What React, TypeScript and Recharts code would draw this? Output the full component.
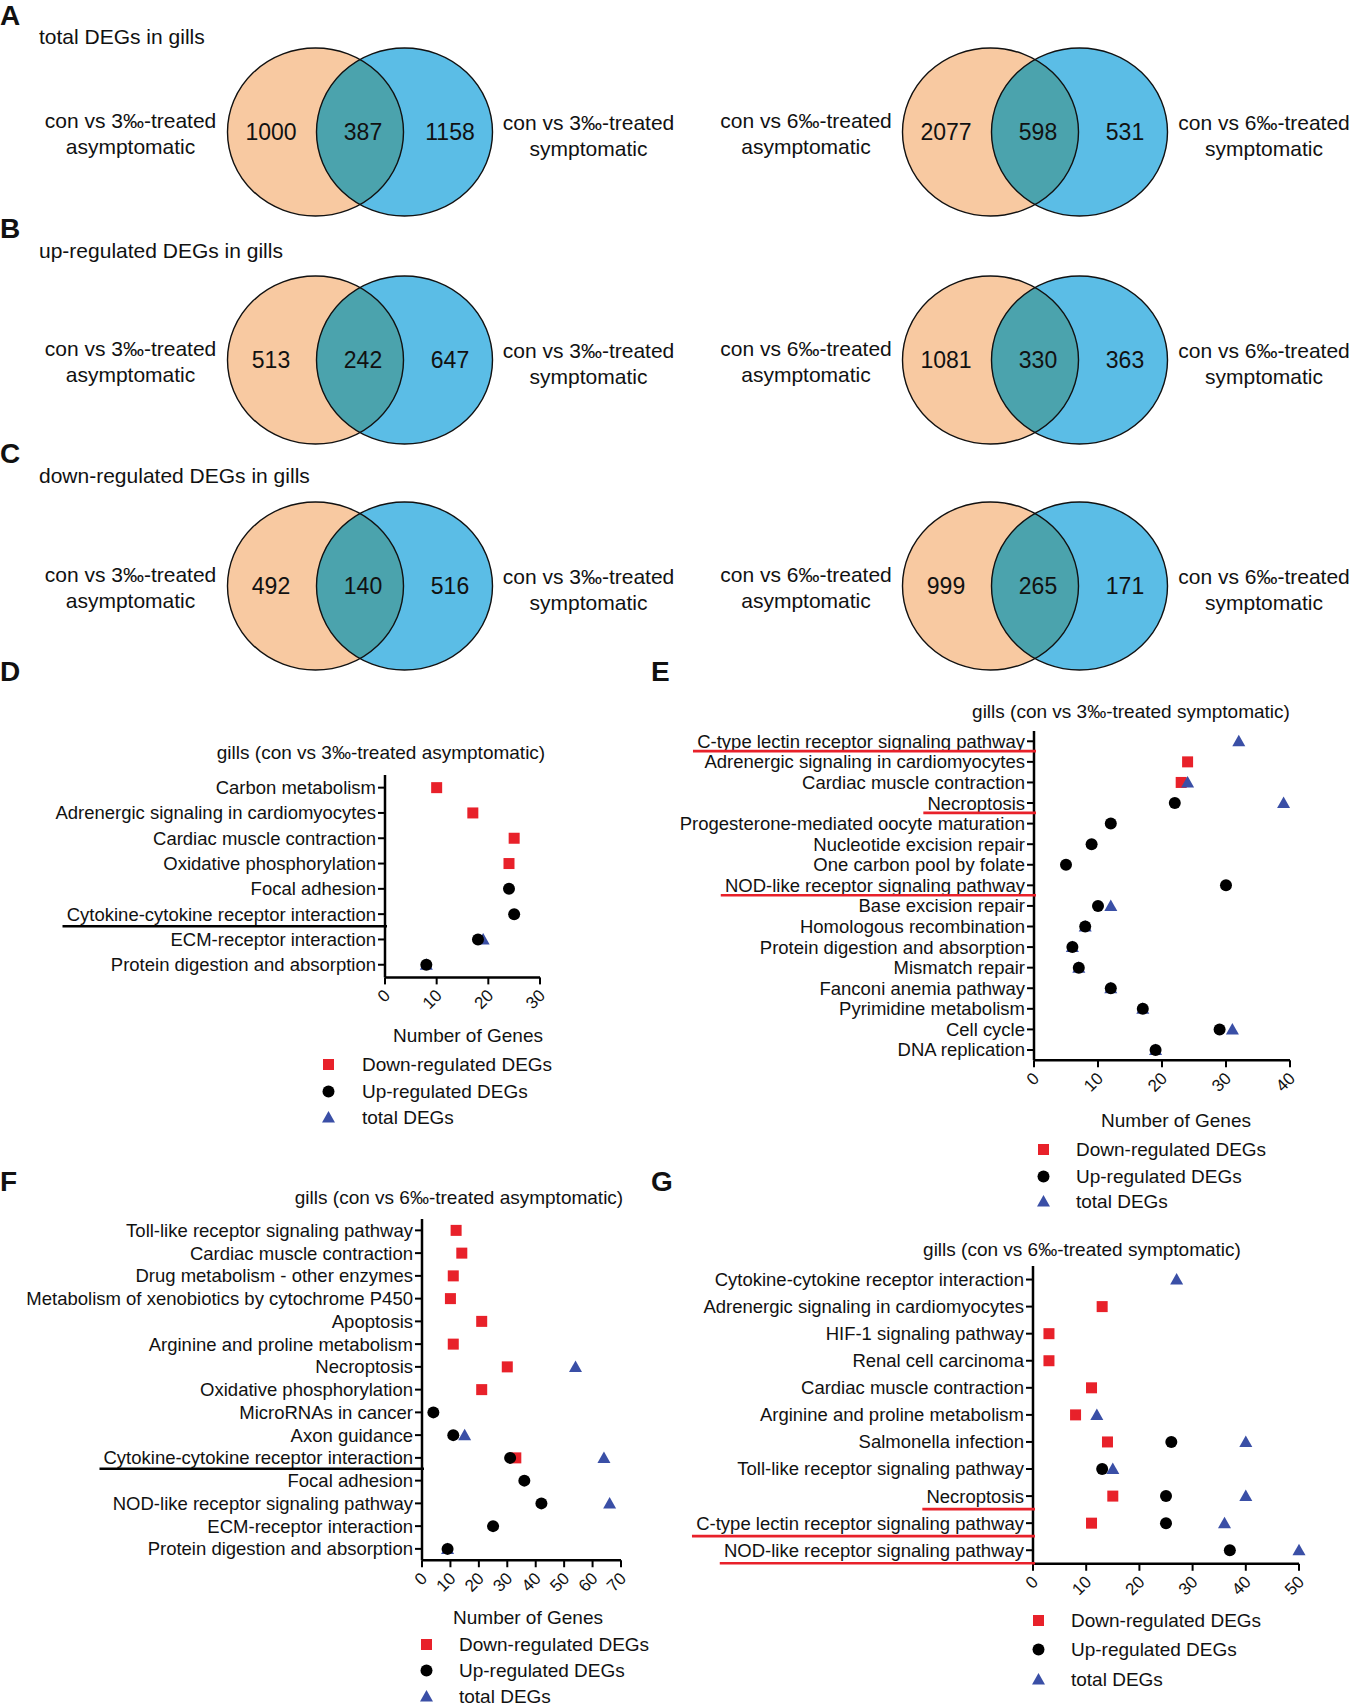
import React from "react";
import {Scatter, ScatterChart, XAxis, YAxis} from "recharts";

const FONT = "'Liberation Sans', Arial, Helvetica, sans-serif";
const RED = "#e8212a";
const TRI_BLUE = "#3a4fa6";
const PEACH = "#f8c9a1";
const SKY = "#5bbde6";
const TEAL = "#4ba3ad";

// ---- Venn diagrams (A, B, C) ----
const vennLetters = ["A", "B", "C"];
const vennTitles = [
  "total DEGs in gills",
  "up-regulated DEGs in gills",
  "down-regulated DEGs in gills",
];
// [only left, shared, only right]
const venn3Counts = [
  [1000, 387, 1158],
  [513, 242, 647],
  [492, 140, 516],
];
const venn6Counts = [
  [2077, 598, 531],
  [1081, 330, 363],
  [999, 265, 171],
];
const venn3Left = ["con vs 3‰-treated", "asymptomatic"];
const venn3Right = ["con vs 3‰-treated", "symptomatic"];
const venn6Left = ["con vs 6‰-treated", "asymptomatic"];
const venn6Right = ["con vs 6‰-treated", "symptomatic"];

// ---- dot plots ----
const legendNames = ["Down-regulated DEGs", "Up-regulated DEGs", "total DEGs"];

const dCategories = [
  "Carbon metabolism",
  "Adrenergic signaling in cardiomyocytes",
  "Cardiac muscle contraction",
  "Oxidative phosphorylation",
  "Focal adhesion",
  "Cytokine-cytokine receptor interaction",
  "ECM-receptor interaction",
  "Protein digestion and absorption",
];
const dDown = [10, 17, 25, 24, null, null, null, null];
const dUp = [null, null, null, null, 24, 25, 18, 8];
const dTotal = [null, null, null, null, null, null, 19, 8];
const dTicks = [0, 10, 20, 30];
const dUnderlined = ["Cytokine-cytokine receptor interaction"];

const eCategories = [
  "C-type lectin receptor signaling pathway",
  "Adrenergic signaling in cardiomyocytes",
  "Cardiac muscle contraction",
  "Necroptosis",
  "Progesterone-mediated oocyte maturation",
  "Nucleotide excision repair",
  "One carbon pool by folate",
  "NOD-like receptor signaling pathway",
  "Base excision repair",
  "Homologous recombination",
  "Protein digestion and absorption",
  "Mismatch repair",
  "Fanconi anemia pathway",
  "Pyrimidine metabolism",
  "Cell cycle",
  "DNA replication",
];
const eDown = [null, 24, 23, null, null, null, null, null, null, null, null, null, null, null, null, null];
const eUp = [null, null, null, 22, 12, 9, 5, 30, 10, 8, 6, 7, 12, 17, 29, 19];
const eTotal = [32, null, 24, 39, null, null, null, null, 12, 8, 6, 7, 12, 17, 31, 19];
const eTicks = [0, 10, 20, 30, 40];
const eUnderlined = [
  "C-type lectin receptor signaling pathway",
  "Necroptosis",
  "NOD-like receptor signaling pathway",
];

const fCategories = [
  "Toll-like receptor signaling pathway",
  "Cardiac muscle contraction",
  "Drug metabolism - other enzymes",
  "Metabolism of xenobiotics by cytochrome P450",
  "Apoptosis",
  "Arginine and proline metabolism",
  "Necroptosis",
  "Oxidative phosphorylation",
  "MicroRNAs in cancer",
  "Axon guidance",
  "Cytokine-cytokine receptor interaction",
  "Focal adhesion",
  "NOD-like receptor signaling pathway",
  "ECM-receptor interaction",
  "Protein digestion and absorption",
];
const fDown = [12, 14, 11, 10, 21, 11, 30, 21, null, null, 33, null, null, null, null];
const fUp = [null, null, null, null, null, null, null, null, 4, 11, 31, 36, 42, 25, 9];
const fTotal = [null, null, null, null, null, null, 54, null, null, 15, 64, null, 66, null, 9];
const fTicks = [0, 10, 20, 30, 40, 50, 60, 70];
const fUnderlined = ["Cytokine-cytokine receptor interaction"];

const gCategories = [
  "Cytokine-cytokine receptor interaction",
  "Adrenergic signaling in cardiomyocytes",
  "HIF-1 signaling pathway",
  "Renal cell carcinoma",
  "Cardiac muscle contraction",
  "Arginine and proline metabolism",
  "Salmonella infection",
  "Toll-like receptor signaling pathway",
  "Necroptosis",
  "C-type lectin receptor signaling pathway",
  "NOD-like receptor signaling pathway",
];
const gDown = [null, 13, 3, 3, 11, 8, 14, null, 15, 11, null];
const gUp = [null, null, null, null, null, null, 26, 13, 25, 25, 37];
const gTotal = [27, null, null, null, null, 12, 40, 15, 40, 36, 50];
const gTicks = [0, 10, 20, 30, 40, 50];
const gUnderlined = [
  "Necroptosis",
  "C-type lectin receptor signaling pathway",
  "NOD-like receptor signaling pathway",
];

// ---------------------------------------------------------------

let ctx: CanvasRenderingContext2D | null = null;
function textWidth(s: string, size: number) {
  if (!ctx) ctx = document.createElement("canvas").getContext("2d");
  if (!ctx) return s.length * size * 0.5;
  ctx.font = `${size}px "Liberation Sans"`;
  return ctx.measureText(s).width;
}

function Txt({x, y, size, anchor = "middle", bold, children}: any) {
  const tx = anchor === "middle" ? "-50%" : anchor === "end" ? "-100%" : "0";
  return (
    <div
      style={{
        position: "absolute",
        left: x,
        top: y,
        transform: `translate(${tx}, -50%)`,
        fontSize: size,
        fontWeight: bold ? 700 : 400,
        whiteSpace: "nowrap",
        lineHeight: 1,
        fontFamily: FONT,
        color: "#111",
      }}
    >
      {children}
    </div>
  );
}

const RX = 88;
const RY = 84;

function Venn({id, mid, cy, counts, leftLabel, rightLabel}: any) {
  const sets = [
    {x: -44.5, y: 0, fill: PEACH},
    {x: 44.5, y: 0, fill: SKY},
  ];
  const countPts = [
    {x: -89, y: 0, n: counts[0]},
    {x: 3, y: 0, n: counts[1]},
    {x: 90, y: 0, n: counts[2]},
  ];
  return (
    <>
      <div style={{position: "absolute", left: mid - 150, top: cy - 95}}>
        <ScatterChart width={300} height={190} margin={{top: 0, right: 0, bottom: 0, left: 0}}>
          <XAxis type="number" dataKey="x" domain={[-150, 150]} hide />
          <YAxis type="number" dataKey="y" domain={[-95, 95]} hide />
          <Scatter
            data={sets}
            isAnimationActive={false}
            shape={(s: any) => (
              <ellipse cx={s.cx} cy={s.cy} rx={RX} ry={RY} fill={s.payload.fill} />
            )}
          />
          <Scatter
            data={[sets[1]]}
            isAnimationActive={false}
            shape={(s: any) => (
              <clipPath id={`clip-${id}`}>
                <ellipse cx={s.cx} cy={s.cy} rx={RX} ry={RY} />
              </clipPath>
            )}
          />
          <Scatter
            data={[sets[0]]}
            isAnimationActive={false}
            shape={(s: any) => (
              <ellipse
                cx={s.cx}
                cy={s.cy}
                rx={RX}
                ry={RY}
                fill={TEAL}
                clipPath={`url(#clip-${id})`}
              />
            )}
          />
          <Scatter
            data={sets}
            isAnimationActive={false}
            shape={(s: any) => (
              <ellipse cx={s.cx} cy={s.cy} rx={RX} ry={RY} fill="none" stroke="#111" strokeWidth={1.4} />
            )}
          />
          <Scatter
            data={countPts}
            isAnimationActive={false}
            shape={(s: any) => (
              <text
                x={s.cx}
                y={s.cy}
                dy="0.36em"
                textAnchor="middle"
                fontSize={23}
                fontFamily={FONT}
                fill="#111"
              >
                {s.payload.n}
              </text>
            )}
          />
        </ScatterChart>
      </div>
      <Txt x={mid - 229} y={cy - 12} size={21}>{leftLabel[0]}</Txt>
      <Txt x={mid - 229} y={cy + 14} size={21}>{leftLabel[1]}</Txt>
      <Txt x={mid + 229} y={cy - 10} size={21}>{rightLabel[0]}</Txt>
      <Txt x={mid + 229} y={cy + 16} size={21}>{rightLabel[1]}</Txt>
    </>
  );
}

const Square = (p: any) => (
  <rect x={p.cx - 5.5} y={p.cy - 5.5} width={11} height={11} fill={RED} />
);
const Dot = (p: any) => <circle cx={p.cx} cy={p.cy} r={6} fill="#000" />;
const Tri = (p: any) => (
  <polygon
    points={`${p.cx},${p.cy - 6.5} ${p.cx + 6.5},${p.cy + 5} ${p.cx - 6.5},${p.cy + 5}`}
    fill={TRI_BLUE}
  />
);

function toPoints(cats: string[], vals: (number | null)[]) {
  return cats.flatMap((c, i) => (vals[i] == null ? [] : [{x: vals[i], y: i, name: c}]));
}

function DotPlot(p: any) {
  const n = p.categories.length;
  const padTop = 14;
  const xAxisH = 50;
  const top = p.firstY - p.band / 2 - padTop;
  const width = p.axisRight + 16 - p.chartLeft;
  const height = padTop + n * p.band + xAxisH;
  const yAxisW = p.axisX - p.chartLeft;
  const idx = p.categories.map((_: string, i: number) => i);
  const catSize = 18.5;

  const CatTick = (t: any) => {
    const label = p.categories[t.payload.value];
    const under = p.underlined.includes(label);
    const w = textWidth(label, catSize);
    const uy = t.y + p.band * 0.48;
    return (
      <g>
        <text
          x={t.x}
          y={t.y}
          dy="0.35em"
          textAnchor="end"
          fontSize={catSize}
          fontFamily={FONT}
          fill="#111"
        >
          {label}
        </text>
        {under && (
          <line
            x1={t.x - w - 4}
            x2={yAxisW + 2}
            y1={uy}
            y2={uy}
            stroke={p.underlineColor}
            strokeWidth={2.6}
          />
        )}
      </g>
    );
  };

  const NumTick = (t: any) => (
    <g transform={`translate(${t.x + 2},${t.y + 6})`}>
      <text
        x={0}
        y={0}
        dy="0.35em"
        textAnchor="end"
        transform="rotate(-45)"
        fontSize={17}
        fontFamily={FONT}
        fill="#111"
      >
        {t.payload.value}
      </text>
    </g>
  );

  return (
    <div style={{position: "absolute", left: p.chartLeft, top, width, height}}>
      <ScatterChart
        width={width}
        height={height}
        margin={{top: padTop, right: 16, bottom: 0, left: 0}}
      >
        <XAxis
          type="number"
          dataKey="x"
          domain={[0, p.ticks[p.ticks.length - 1]]}
          ticks={p.ticks}
          interval={0}
          height={xAxisH}
          tickSize={7}
          axisLine={{stroke: "#000", strokeWidth: 2.5}}
          tickLine={{stroke: "#000", strokeWidth: 2}}
          tick={NumTick}
        />
        <YAxis
          type="number"
          dataKey="y"
          domain={[-0.5, n - 0.5]}
          reversed
          ticks={idx}
          interval={0}
          width={yAxisW}
          tickSize={7}
          tickMargin={2}
          axisLine={{stroke: "#000", strokeWidth: 2.5}}
          tickLine={{stroke: "#000", strokeWidth: 2}}
          tick={CatTick}
        />
        <Scatter data={toPoints(p.categories, p.down)} shape={Square} isAnimationActive={false} />
        <Scatter data={toPoints(p.categories, p.total)} shape={Tri} isAnimationActive={false} />
        <Scatter data={toPoints(p.categories, p.up)} shape={Dot} isAnimationActive={false} />
      </ScatterChart>
    </div>
  );
}

function Legend({markerX, textX, ys}: any) {
  const markers = [
    <rect x={4} y={4} width={11} height={11} fill={RED} />,
    <circle cx={9.5} cy={9.5} r={6} fill="#000" />,
    <polygon points="9.5,3 16,14.5 3,14.5" fill={TRI_BLUE} />,
  ];
  return (
    <>
      {legendNames.map((name, i) => (
        <React.Fragment key={name}>
          <svg
            width={19}
            height={19}
            style={{position: "absolute", left: markerX - 9.5, top: ys[i] - 9.5}}
          >
            {markers[i]}
          </svg>
          <Txt x={textX} y={ys[i]} size={19} anchor="start">
            {name}
          </Txt>
        </React.Fragment>
      ))}
    </>
  );
}

export default function App() {
  const rowsCy = [132, 360, 586];
  const titleY = [36, 250, 475];
  const letterY = [16, 229, 454];
  return (
    <div
      style={{
        position: "absolute",
        left: 0,
        top: 0,
        width: 1350,
        height: 1705,
        background: "#fff",
        overflow: "hidden",
        fontFamily: FONT,
      }}
    >
      {vennLetters.map((l, i) => (
        <React.Fragment key={l}>
          <Txt x={0} y={letterY[i]} size={28} bold anchor="start">{l}</Txt>
          <Txt x={39} y={titleY[i]} size={21} anchor="start">{vennTitles[i]}</Txt>
          <Venn
            id={`l${i}`}
            mid={359.5}
            cy={rowsCy[i]}
            counts={venn3Counts[i]}
            leftLabel={venn3Left}
            rightLabel={venn3Right}
          />
          <Venn
            id={`r${i}`}
            mid={1035}
            cy={rowsCy[i]}
            counts={venn6Counts[i]}
            leftLabel={venn6Left}
            rightLabel={venn6Right}
          />
        </React.Fragment>
      ))}

      {/* D */}
      <Txt x={0} y={672} size={28} bold anchor="start">D</Txt>
      <Txt x={381} y={752} size={19}>gills (con vs 3‰-treated asymptomatic)</Txt>
      <DotPlot
        categories={dCategories}
        down={dDown}
        up={dUp}
        total={dTotal}
        ticks={dTicks}
        underlined={dUnderlined}
        underlineColor="#000"
        chartLeft={0}
        axisX={385}
        axisRight={540}
        firstY={788}
        band={25.3}
      />
      <Txt x={468} y={1035} size={19}>Number of Genes</Txt>
      <Legend markerX={328} textX={362} ys={[1064, 1091, 1117]} />

      {/* E */}
      <Txt x={651} y={672} size={28} bold anchor="start">E</Txt>
      <Txt x={1131} y={711} size={19}>gills (con vs 3‰-treated symptomatic)</Txt>
      <DotPlot
        categories={eCategories}
        down={eDown}
        up={eUp}
        total={eTotal}
        ticks={eTicks}
        underlined={eUnderlined}
        underlineColor={RED}
        chartLeft={640}
        axisX={1034}
        axisRight={1290}
        firstY={741}
        band={20.58}
      />
      <Txt x={1176} y={1120} size={19}>Number of Genes</Txt>
      <Legend markerX={1043} textX={1076} ys={[1149, 1176, 1201]} />

      {/* F */}
      <Txt x={0} y={1182} size={28} bold anchor="start">F</Txt>
      <Txt x={459} y={1197} size={19}>gills (con vs 6‰-treated asymptomatic)</Txt>
      <DotPlot
        categories={fCategories}
        down={fDown}
        up={fUp}
        total={fTotal}
        ticks={fTicks}
        underlined={fUnderlined}
        underlineColor="#000"
        chartLeft={0}
        axisX={422}
        axisRight={621}
        firstY={1230.5}
        band={22.75}
      />
      <Txt x={528} y={1617} size={19}>Number of Genes</Txt>
      <Legend markerX={426} textX={459} ys={[1644, 1670, 1696]} />

      {/* G */}
      <Txt x={651} y={1182} size={28} bold anchor="start">G</Txt>
      <Txt x={1082} y={1249} size={19}>gills (con vs 6‰-treated symptomatic)</Txt>
      <DotPlot
        categories={gCategories}
        down={gDown}
        up={gUp}
        total={gTotal}
        ticks={gTicks}
        underlined={gUnderlined}
        underlineColor={RED}
        chartLeft={640}
        axisX={1033}
        axisRight={1299}
        firstY={1279.4}
        band={27.07}
      />
      <Legend markerX={1038} textX={1071} ys={[1620, 1649, 1679]} />
    </div>
  );
}
